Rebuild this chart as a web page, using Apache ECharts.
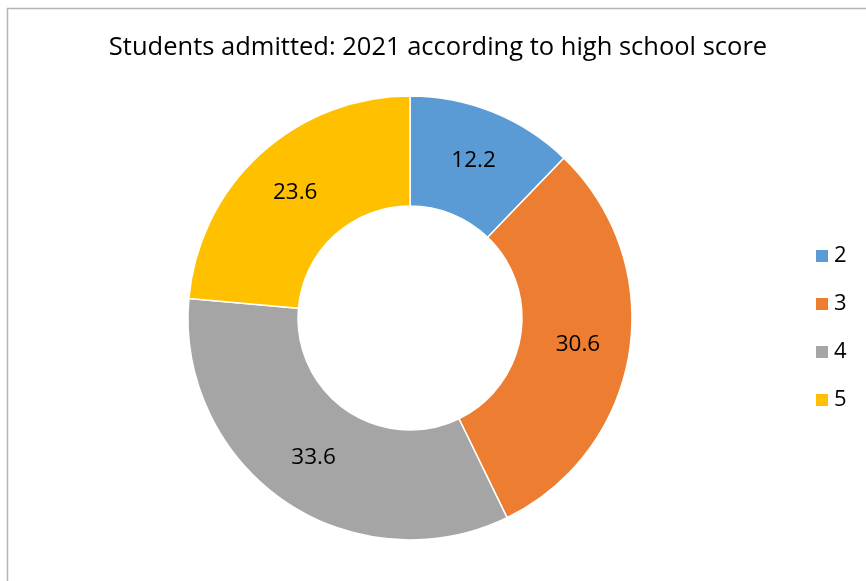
<!DOCTYPE html>
<html><head><meta charset="utf-8">
<script src="https://cdn.jsdelivr.net/npm/echarts@6/dist/echarts.min.js"></script>
<style>html,body{margin:0;padding:0;background:#fff}#c{width:866px;height:581px}</style>
</head><body><div id="c"></div>
<script>
const titleText = 'Students admitted: 2021 according to high school score';
const categories = ['2', '3', '4', '5'];
const values = [12.2, 30.6, 33.6, 23.6];
const colors = ['#5B9BD5', '#ED7D31', '#A5A5A5', '#FFC000'];

const chart = echarts.init(document.getElementById('c'));
const FONT = '"Open Sans", "Noto Sans", sans-serif';
chart.setOption({
  animation: false,
  color: colors,
  graphic: [
    { type: 'rect', shape: { x: 7.5, y: 8.5, width: 900, height: 600 }, style: { fill: 'none', stroke: '#B4B4B4', lineWidth: 1.5 }, silent: true },
    { type: 'text', x: 438, y: 48, style: { text: titleText, fill: '#000', font: '25.5px ' + FONT, textAlign: 'center', textVerticalAlign: 'middle' } }
  ],
  legend: {
    orient: 'vertical', left: 809, top: 240,
    itemWidth: 14, itemHeight: 14, itemGap: 26, icon: 'rect',
    textStyle: { fontSize: 22, color: '#000', fontFamily: FONT },
    data: categories
  },
  series: [{
    type: 'pie',
    center: [410, 318],
    radius: [112, 222],
    startAngle: 90,
    clockwise: true,
    avoidLabelOverlap: false,
    itemStyle: { borderColor: '#fff', borderWidth: 1.5 },
    label: { position: 'inside', formatter: p => p.value.toFixed(1), fontSize: 22.5, color: '#000', fontFamily: FONT },
    labelLine: { show: false },
    emphasis: { disabled: true },
    data: categories.map((c, i) => ({ name: c, value: values[i] }))
  }]
});
</script></body></html>
